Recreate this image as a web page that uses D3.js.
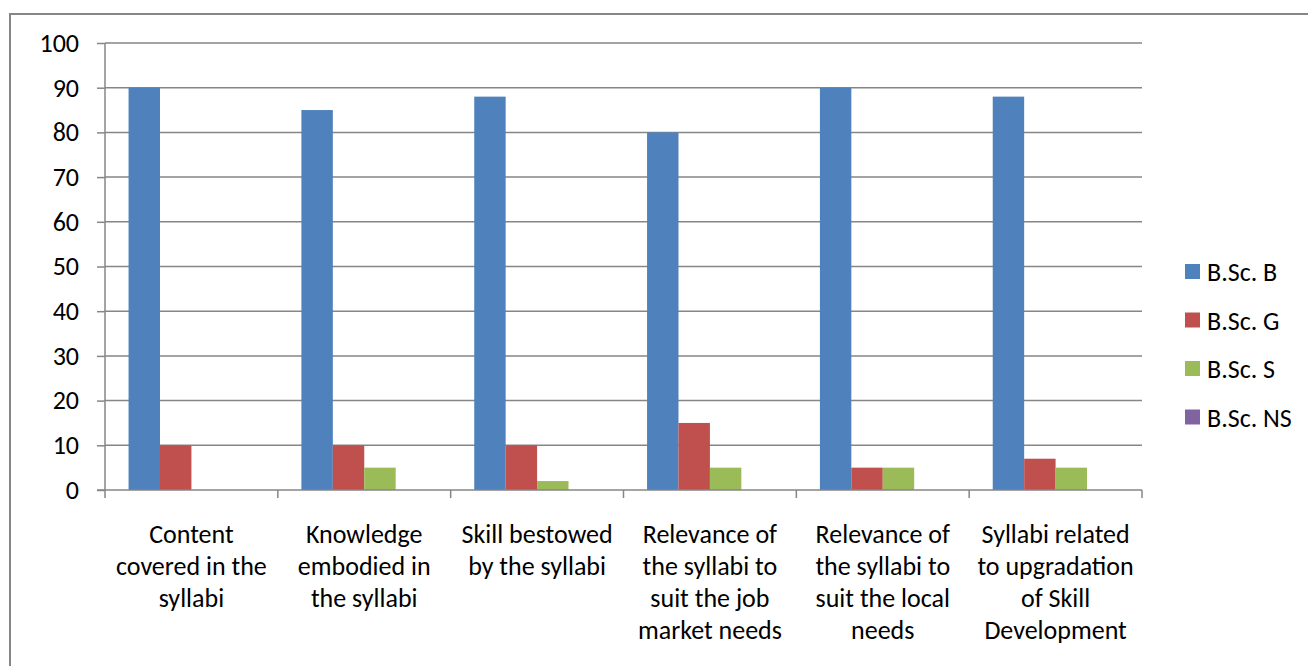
<!DOCTYPE html>
<html>
<head>
<meta charset="utf-8">
<script src="https://cdn.jsdelivr.net/npm/d3@7"></script>
<style>
  html, body { margin: 0; padding: 0; background: #fff; }
  svg { display: block; }
  text { font-family: Carlito, Calibri, "Open Sans", "Noto Sans", sans-serif; fill: #000; }
</style>
</head>
<body>
<svg id="chart" width="1308" height="666"></svg>
<script>
// ---- data ----
const categories = [
  "Content covered in the syllabi",
  "Knowledge embodied in the syllabi",
  "Skill bestowed by the syllabi",
  "Relevance of the syllabi to suit the job market needs",
  "Relevance of the syllabi to suit the local needs",
  "Syllabi related to upgradation of Skill Development"
];
const categoryLines = [
  ["Content", "covered in the", "syllabi"],
  ["Knowledge", "embodied in", "the syllabi"],
  ["Skill bestowed", "by the syllabi"],
  ["Relevance of", "the syllabi to", "suit the job", "market needs"],
  ["Relevance of", "the syllabi to", "suit the local", "needs"],
  ["Syllabi related", "to upgradation", "of Skill", "Development"]
];
const seriesNames = ["B.Sc. B", "B.Sc. G", "B.Sc. S", "B.Sc. NS"];
const valuesB  = [90, 85, 88, 80, 90, 88];
const valuesG  = [10, 10, 10, 15, 5, 7];
const valuesS  = [0, 5, 2, 5, 5, 5];
const valuesNS = [0, 0, 0, 0, 0, 0];
const seriesColors = ["#4F81BD", "#C0504D", "#9BBB59", "#8064A2"];
const yTicks = [0, 10, 20, 30, 40, 50, 60, 70, 80, 90, 100];

const seriesValues = [valuesB, valuesG, valuesS, valuesNS];

// ---- layout ----
const svg = d3.select("#chart");
const plotLeft = 105, plotRight = 1142, plotTop = 43, plotBottom = 490;
const gridColor = "#868686";
const fontPx = "26px";

// outer frame
svg.append("rect")
  .attr("x", 10).attr("y", 14)
  .attr("width", 1320).attr("height", 700)
  .attr("fill", "none").attr("stroke", gridColor).attr("stroke-width", 2);

const x0 = d3.scaleBand().domain(categories).range([plotLeft, plotRight]).paddingInner(0).paddingOuter(0);
const catW = x0.bandwidth();
const barW = catW / 5.5;
const x1 = d3.scaleBand().domain(seriesNames)
  .range([catW * 0.75 / 5.5, catW * 0.75 / 5.5 + barW * 4]).padding(0);
const y = d3.scaleLinear().domain([0, 100]).range([plotBottom, plotTop]);

// gridlines
svg.append("g").selectAll("line").data(yTicks.filter(d => d > 0)).join("line")
  .attr("x1", plotLeft).attr("x2", plotRight)
  .attr("y1", d => y(d)).attr("y2", d => y(d))
  .attr("stroke", gridColor).attr("stroke-width", 1.5);

// y axis
const yAxis = svg.append("g").attr("transform", `translate(${plotLeft},0)`)
  .call(d3.axisLeft(y).tickValues(yTicks).tickSize(8).tickPadding(18));
yAxis.select(".domain").attr("stroke", gridColor).attr("stroke-width", 1.5)
  .attr("d", `M0,${plotTop}V${plotBottom}`);
yAxis.selectAll(".tick line").attr("stroke", gridColor).attr("stroke-width", 1.5);
yAxis.selectAll(".tick text").style("font-size", fontPx).attr("fill", "#000")
  .attr("font-family", null);

// bars
const groups = svg.append("g").selectAll("g").data(categories).join("g")
  .attr("transform", d => `translate(${x0(d)},0)`);
groups.selectAll("rect")
  .data((c, i) => seriesNames.map((s, j) => ({ s, v: seriesValues[j][i], c: seriesColors[j] })))
  .join("rect")
  .attr("x", d => x1(d.s))
  .attr("width", x1.bandwidth())
  .attr("y", d => y(d.v))
  .attr("height", d => y(0) - y(d.v))
  .attr("fill", d => d.c);

// x axis
const xAxis = svg.append("g").attr("transform", `translate(0,${plotBottom})`);
xAxis.append("line").attr("x1", plotLeft - 8).attr("x2", plotRight)
  .attr("y1", 0).attr("y2", 0).attr("stroke", gridColor).attr("stroke-width", 1.5);
const boundaries = categories.map(c => x0(c)).concat([plotRight]);
xAxis.selectAll("line.tk").data(boundaries).join("line").attr("class", "tk")
  .attr("x1", d => d).attr("x2", d => d).attr("y1", 0).attr("y2", 8)
  .attr("stroke", gridColor).attr("stroke-width", 1.5);

// category labels
svg.append("g").selectAll("text").data(categories).join("text")
  .attr("text-anchor", "middle")
  .style("font-size", fontPx)
  .each(function (c, i) {
    const t = d3.select(this);
    categoryLines[i].forEach((ln, k) => {
      t.append("tspan").attr("x", x0(c) + catW / 2).attr("y", 543 + k * 32).text(ln);
    });
  });

// legend
const legend = svg.append("g").selectAll("g").data(seriesNames).join("g")
  .attr("transform", (d, i) => `translate(1185,${264 + i * 48.5})`);
legend.append("rect").attr("width", 15).attr("height", 15)
  .attr("fill", (d, i) => seriesColors[i]);
legend.append("text").attr("x", 22).attr("y", 17).style("font-size", fontPx).text(d => d);
</script>
</body>
</html>
